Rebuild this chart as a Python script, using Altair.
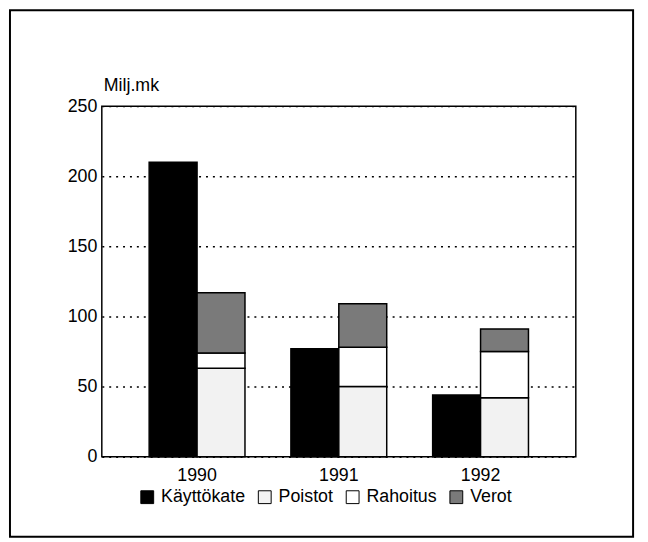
import altair as alt
import pandas as pd

years = ["1990", "1991", "1992"]
series = ["Käyttökate", "Poistot", "Rahoitus", "Verot"]
kayttokate = [210, 77, 44]
poistot = [63, 50, 42]
rahoitus = [11, 28, 33]
verot = [43, 31, 16]
y_ticks = [0, 50, 100, 150, 200, 250]
unit_label = "Milj.mk"

rows = []
for i, yr in enumerate(years):
    rows.append({"year": yr, "series": "Käyttökate", "value": kayttokate[i], "group": "a", "ord": 0})
    rows.append({"year": yr, "series": "Poistot", "value": poistot[i], "group": "b", "ord": 1})
    rows.append({"year": yr, "series": "Rahoitus", "value": rahoitus[i], "group": "b", "ord": 2})
    rows.append({"year": yr, "series": "Verot", "value": verot[i], "group": "b", "ord": 3})
df = pd.DataFrame(rows)

FONT = "Liberation Sans"

bars = alt.Chart(df).mark_bar(stroke="black", strokeWidth=1.5, strokeOpacity=1).encode(
    x=alt.X("year:N", sort=years,
            scale=alt.Scale(paddingInner=0.324, paddingOuter=0.334),
            axis=alt.Axis(title=None, labelAngle=0, ticks=False, domain=False,
                          labelPadding=10, labelFontSize=18, labelFont=FONT,
                          labelColor="black")),
    xOffset=alt.XOffset("group:N", scale=alt.Scale(paddingInner=0, paddingOuter=0)),
    y=alt.Y("value:Q", stack="zero",
            scale=alt.Scale(domain=[0, 250], nice=False),
            axis=alt.Axis(title=None, values=y_ticks, ticks=False, domain=False,
                          labelPadding=5, labelFontSize=18, labelFont=FONT,
                          labelColor="black",
                          grid=True, gridColor="black", gridDash=[2, 5],
                          gridWidth=1.5, gridOpacity=1)),
    color=alt.Color("series:N",
                    scale=alt.Scale(domain=series,
                                    range=["#000000", "#f2f2f2", "#ffffff", "#7a7a7a"]),
                    legend=alt.Legend(title=None, orient="none", legendX=37, legendY=387,
                                      direction="horizontal", symbolType="square",
                                      symbolSize=169, symbolStrokeColor="black",
                                      symbolStrokeWidth=1, symbolOpacity=1,
                                      labelFontSize=18, labelFont=FONT,
                                      labelColor="black", columnPadding=10,
                                      labelOffset=5)),
    order=alt.Order("ord:Q"),
)

frame = alt.Chart(alt.Data(values=[{"k": 1}])).mark_rect(
    fill=None, fillOpacity=0, stroke="black", strokeWidth=2
).encode(
    x=alt.value(-93), x2=alt.value(538), y=alt.value(-97), y2=alt.value(436)
)

unit = alt.Chart(alt.Data(values=[{"t": unit_label}])).mark_text(
    align="left", baseline="alphabetic", fontSize=18, font=FONT, color="black"
).encode(
    text="t:N", x=alt.value(2), y=alt.value(-15)
)

chart = alt.layer(frame, bars, unit).properties(
    width=480, height=355,
    autosize=alt.AutoSizeParams(type="none"),
    padding={"left": 95, "top": 96, "right": 65, "bottom": 83},
).configure_view(stroke="black", strokeWidth=1.5)

chart.save("out.html", embed_options={"renderer": "svg", "actions": False})
